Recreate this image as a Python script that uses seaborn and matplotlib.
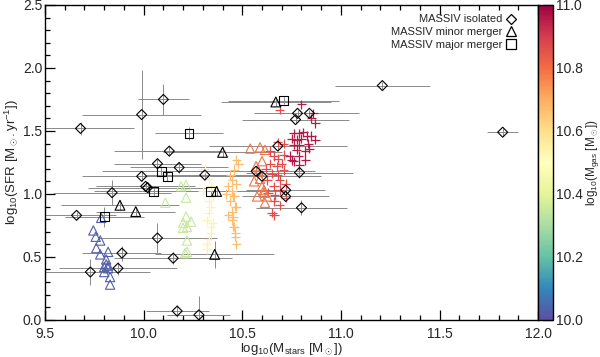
import numpy as np
import pandas as pd
import matplotlib
matplotlib.use("Agg")
import matplotlib.pyplot as plt
import seaborn as sns
from matplotlib.ticker import MultipleLocator, FormatStrFormatter
from matplotlib.lines import Line2D
from matplotlib.cm import ScalarMappable
from matplotlib.colors import Normalize

sns.set_theme(style="ticks")
plt.rcParams['font.family'] = ['Liberation Sans', 'DejaVu Sans']
plt.rcParams['mathtext.fontset'] = 'custom'
plt.rcParams['mathtext.rm'] = 'Liberation Sans'
plt.rcParams['mathtext.it'] = 'Liberation Sans'

# --- MASSIV observations (log M*, log SFR, errors) ---
iso_x = [9.68, 10.10, 9.99, 10.13, 10.07, 10.18, 9.99, 10.31, 10.01, 10.02, 9.84, 9.66,
         10.07, 9.89, 10.15, 9.73, 9.87, 10.17, 10.28, 10.72, 10.72, 10.80, 10.79, 11.21,
         10.78, 10.84, 10.77, 10.68, 10.57, 10.60, 11.82]
iso_y = [1.52, 1.75, 1.63, 1.34, 1.24, 1.21, 1.14, 1.15, 1.06, 1.05, 1.01, 0.83,
         0.65, 0.53, 0.49, 0.38, 0.41, 0.07, 0.04, 1.03, 0.98, 0.89, 1.17, 1.86,
         1.64, 1.64, 1.59, 1.38, 1.18, 1.14, 1.49]
iso_xerr = [0.27, 0.13, 0.30, 0.28, 0.22, 0.25, 0.30, 0.30, 0.25, 0.30, 0.30, 0.20,
            0.30, 0.20, 0.30, 0.30, 0.30, 0.16, 0.16, 0.20, 0.22, 0.23, 0.27, 0.24,
            0.22, 0.25, 0.27, 0.35, 0.30, 0.30, 0.08]
iso_yerr = [0.05, 0.12, 0.35, 0.04, 0.04, 0.04, 0.04, 0.04, 0.04, 0.04, 0.10, 0.03,
            0.12, 0.06, 0.05, 0.10, 0.05, 0.05, 0.15, 0.04, 0.04, 0.06, 0.04, 0.03,
            0.03, 0.03, 0.03, 0.04, 0.04, 0.04, 0.03]

minor_x = [10.40, 10.67, 10.37, 9.88, 9.96, 10.36]
minor_y = [1.33, 1.73, 1.02, 0.91, 0.86, 0.52]
minor_xerr = [0.30, 0.28, 0.35, 0.30, 0.20, 0.30]
minor_yerr = [0.04, 0.03, 0.04, 0.04, 0.04, 0.11]

major_x = [10.71, 10.23, 10.09, 10.12, 10.05, 10.34, 9.80]
major_y = [1.74, 1.48, 1.18, 1.14, 1.02, 1.02, 0.82]
major_xerr = [0.28, 0.17, 0.30, 0.30, 0.30, 0.30, 0.20]
major_yerr = [0.03, 0.05, 0.04, 0.04, 0.04, 0.04, 0.08]

# --- simulations, coloured by log M_gas ---
blue_tri_x = [9.745, 9.757, 9.78, 9.76, 9.78, 9.82, 9.81, 9.81, 9.82, 9.80, 9.83, 9.83, 9.785, 9.82, 9.80]
blue_tri_y = [0.71, 0.66, 0.63, 0.57, 0.52, 0.54, 0.48, 0.44, 0.41, 0.38, 0.34, 0.28, 0.81, 0.43, 0.42]
blue_gas = 10.03

green_tri_x = [10.19, 10.215, 10.11, 10.215, 10.215, 10.20, 10.22, 10.20, 10.22, 10.22, 10.21, 10.24]
green_tri_y = [1.06, 1.07, 0.93, 0.97, 0.82, 0.77, 0.74, 0.73, 0.63, 0.54, 0.53, 0.78]
green_gas = 10.35

red_tri_x = [10.54, 10.59, 10.615, 10.57, 10.58, 10.59, 10.60, 10.575, 10.615, 10.61, 10.625, 10.61, 10.56, 10.60]
red_tri_y = [1.36, 1.37, 1.35, 1.22, 1.18, 1.12, 1.06, 0.98, 0.93, 1.03, 0.98, 1.01, 1.10, 1.26]
red_tri_gas = 10.79

yellow_plus_x = [10.34, 10.33, 10.35, 10.34, 10.32, 10.34, 10.32, 10.34, 10.33, 10.31, 10.33, 10.30, 10.35, 10.33, 10.32]
yellow_plus_y = [1.06, 0.85, 0.77, 0.69, 0.60, 0.90, 0.79, 0.74, 0.94, 1.20, 1.12, 1.02, 0.98, 0.64, 0.56]
yellow_gas = 10.54

orange_plus_x = [10.48, 10.46, 10.44, 10.45, 10.47, 10.43, 10.45, 10.46, 10.44, 10.47, 10.45, 10.43,
                 10.45, 10.46, 10.465, 10.47, 10.455, 10.465, 10.455, 10.455, 10.465, 10.47, 10.42]
orange_plus_y = [1.24, 1.19, 1.15, 1.11, 1.08, 1.06, 1.02, 0.98, 0.94, 0.90, 0.86, 0.83,
                 0.79, 0.74, 0.66, 1.27, 0.98, 0.90, 0.82, 0.74, 0.69, 0.60, 1.00]
orange_gas = 10.67

red_plus_x = [10.68, 10.71, 10.66, 10.68, 10.71, 10.64, 10.675, 10.70, 10.65, 10.68, 10.71, 10.625, 10.69,
              10.72, 10.66, 10.69, 10.63, 10.72, 10.66, 10.69, 10.65, 10.665, 10.66, 10.69, 10.64, 10.62]
red_plus_y = [1.41, 1.40, 1.30, 1.28, 1.31, 1.24, 1.22, 1.24, 1.16, 1.15, 1.19, 1.11, 1.11,
              1.08, 1.06, 1.03, 1.01, 0.97, 0.94, 0.91, 0.85, 0.99, 0.83, 1.67, 1.34, 1.20]
red_plus_gas = 10.87

mag_plus_x = [10.80, 10.86, 10.85, 10.87, 10.76, 10.785, 10.81, 10.75, 10.775, 10.80, 10.83, 10.85, 10.76,
              10.79, 10.835, 10.87, 10.775, 10.82, 10.84, 10.74, 10.785, 10.82, 10.76, 10.79, 10.75]
mag_plus_y = [1.71, 1.64, 1.60, 1.56, 1.48, 1.48, 1.49, 1.44, 1.43, 1.44, 1.46, 1.46, 1.39,
              1.39, 1.40, 1.43, 1.35, 1.34, 1.36, 1.30, 1.30, 1.27, 1.26, 1.23, 1.27]
mag_gas = 10.96


def build(groups):
    frames = []
    for xs, ys, g in groups:
        frames.append(pd.DataFrame({'x': xs, 'y': ys, 'mgas': g}))
    return pd.concat(frames, ignore_index=True)


tri = build([(blue_tri_x, blue_tri_y, blue_gas), (green_tri_x, green_tri_y, green_gas),
             (red_tri_x, red_tri_y, red_tri_gas)])
plus = build([(yellow_plus_x, yellow_plus_y, yellow_gas), (orange_plus_x, orange_plus_y, orange_gas),
              (red_plus_x, red_plus_y, red_plus_gas), (mag_plus_x, mag_plus_y, mag_gas)])

cmap = 'Spectral_r'
norm = (10.0, 11.0)

fig = plt.figure(figsize=(6, 3.57), dpi=100)
ax = fig.add_axes([0.075, 0.104, 0.822, 0.882])
cax = fig.add_axes([0.897, 0.104, 0.025, 0.882])

# error bars of the observations
for xs, ys, xe, ye in [(iso_x, iso_y, iso_xerr, iso_yerr), (minor_x, minor_y, minor_xerr, minor_yerr),
                       (major_x, major_y, major_xerr, major_yerr)]:
    ax.errorbar(xs, ys, xerr=xe, yerr=ye, fmt='none', ecolor='#8a8a8a', elinewidth=0.7, capsize=0, zorder=1)

sns.scatterplot(data=plus, x='x', y='y', hue='mgas', palette=cmap, hue_norm=norm, marker='+',
                s=45, linewidth=0.9, legend=False, ax=ax, zorder=2)
sns.scatterplot(data=tri, x='x', y='y', hue='mgas', palette=cmap, hue_norm=norm, marker='^',
                s=45, linewidth=0.8, legend=False, ax=ax, zorder=2)
coll = ax.collections[-1]
coll.set_edgecolors(coll.get_facecolors())
coll.set_facecolors('none')

sns.scatterplot(x=iso_x, y=iso_y, marker='D', s=26, fc='none', ec='black', linewidth=0.8, ax=ax, zorder=4)
sns.scatterplot(x=minor_x, y=minor_y, marker='^', s=50, fc='none', ec='black', linewidth=0.8, ax=ax, zorder=4)
sns.scatterplot(x=major_x, y=major_y, marker='s', s=40, fc='none', ec='black', linewidth=0.8, ax=ax, zorder=4)

ax.set_xlim(9.5, 12.0)
ax.set_ylim(0.0, 2.5)
ax.xaxis.set_major_locator(MultipleLocator(0.5))
ax.xaxis.set_minor_locator(MultipleLocator(0.1))
ax.yaxis.set_major_locator(MultipleLocator(0.5))
ax.yaxis.set_minor_locator(MultipleLocator(0.1))
ax.xaxis.set_major_formatter(FormatStrFormatter('%.1f'))
ax.yaxis.set_major_formatter(FormatStrFormatter('%.1f'))
ax.tick_params(which='both', direction='in', top=True, right=False, color='black', labelsize=10, width=0.9)
ax.tick_params(which='major', length=7)
ax.tick_params(which='minor', length=3.5)
ax.tick_params(axis='x', which='major', pad=5)
ax.tick_params(axis='y', which='major', pad=2)
for sp in ax.spines.values():
    sp.set_color('black')
    sp.set_linewidth(1.0)

ax.set_xlabel(r'$\mathrm{log_{10}(M_{stars}\ [M_\odot])}$', fontsize=9.5, labelpad=0)
ax.set_ylabel(r'$\mathrm{log_{10}(SFR\ [M_\odot.yr^{-1}])}$', fontsize=9.5, labelpad=1)

handles = [Line2D([], [], marker=m, ls='none', mfc='none', mec='black', ms=ms, mew=0.9)
           for m, ms in [('D', 5.5), ('^', 7), ('s', 6.5)]]
labels = ['MASSIV isolated', 'MASSIV minor merger', 'MASSIV major merger']
ax.legend(handles, labels, loc='upper right', bbox_to_anchor=(0.955, 0.97), markerfirst=False,
          frameon=False, fontsize=8, handletextpad=0.3, labelspacing=0.25, handlelength=0.9,
          borderaxespad=0, borderpad=0)

sm = ScalarMappable(norm=Normalize(*norm), cmap=cmap)
cb = fig.colorbar(sm, cax=cax)
cb.outline.set_edgecolor('black')
cb.outline.set_linewidth(1.0)
cb.set_ticks([10.0, 10.2, 10.4, 10.6, 10.8, 11.0])
cb.ax.yaxis.set_major_formatter(FormatStrFormatter('%.1f'))
cb.ax.yaxis.set_minor_locator(MultipleLocator(0.05))
cb.ax.tick_params(which='both', direction='in', color='black', labelsize=10, width=0.9)
cb.ax.tick_params(which='major', length=7, pad=2)
cb.ax.tick_params(which='minor', length=3.5)
cb.set_label(r'$\mathrm{log_{10}(M_{gas}\ [M_\odot])}$', fontsize=8.5, labelpad=1)

fig.savefig('out.png', dpi=100)
